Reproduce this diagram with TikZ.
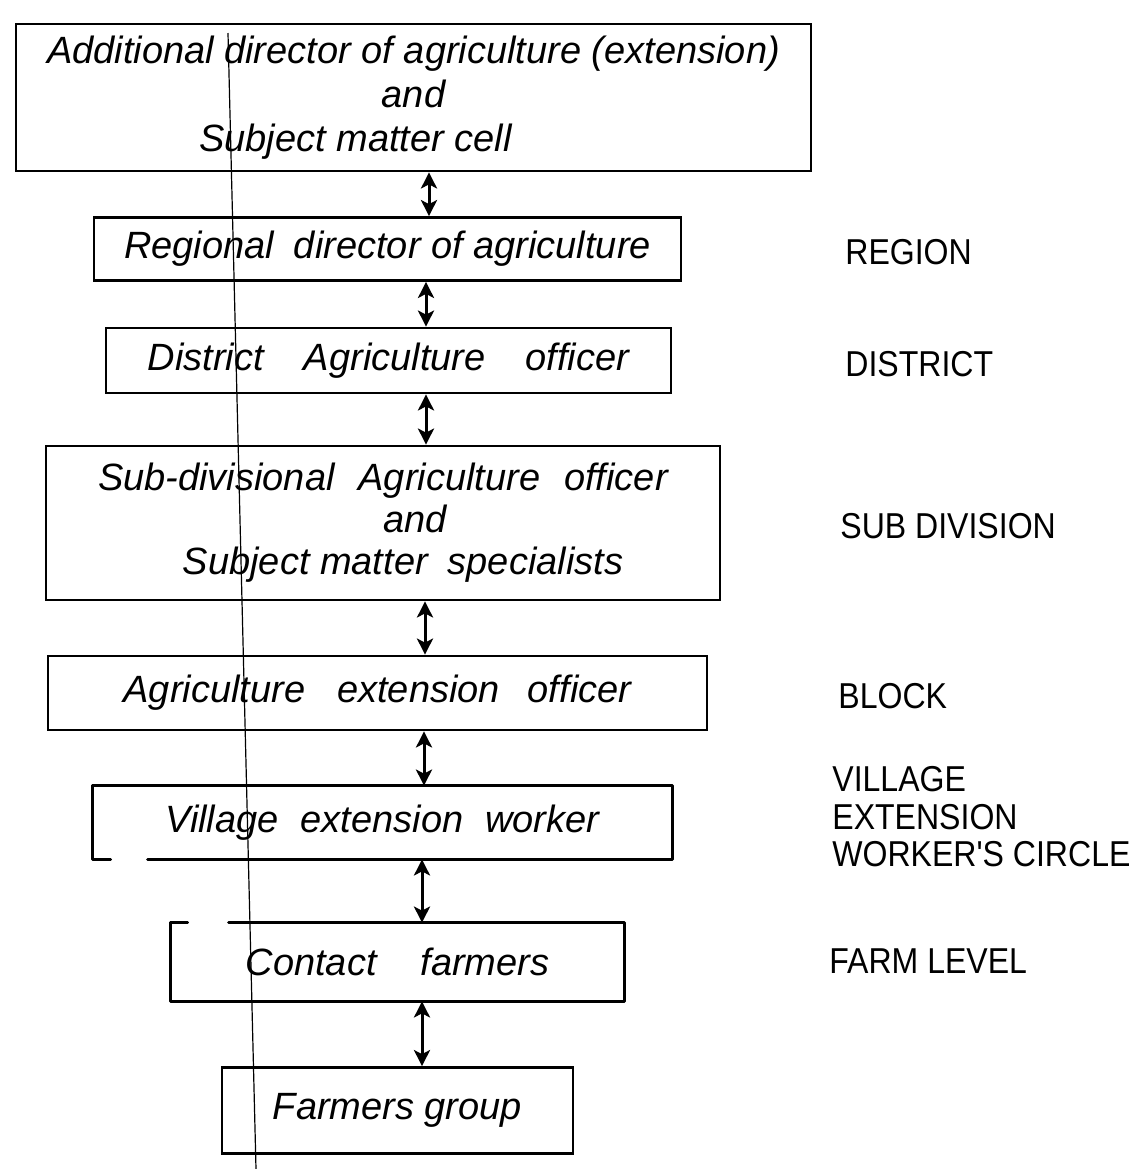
\documentclass[tikz,border=0pt]{standalone}
\usepackage{fontspec}
\setmainfont{Liberation Sans}
\newfontfamily\hand{Liberation Sans}
\newfontfamily\lab[FakeStretch=0.89]{Liberation Sans}
\usetikzlibrary{arrows.meta}
\begin{document}
\begin{tikzpicture}[x=0.5pt,y=-0.5pt,
  bxfont/.style={font=\hand\itshape\fontsize{19}{22}\selectfont},
  bx/.style={draw, line width=1.4pt, inner sep=0pt, align=center, bxfont},
  nb/.style={inner sep=0pt, align=center, bxfont},
  edge/.style={line width=1.4pt, line cap=round, line join=round},
  lv/.style={anchor=west, inner sep=0pt, align=left, font=\lab\fontsize{18}{18.75}\selectfont},
  dbl/.style={line width=1.5pt, {Stealth[length=8pt,width=8pt,inset=2pt]}-{Stealth[length=8pt,width=8pt,inset=2pt]}},
  fold/.style={line width=0.6pt}]

\fill[white] (0,0) rectangle (1144,1169);
\useasboundingbox (0,0) rectangle (1144,1169);

% thin vertical line across the sheet
\coordinate (ft) at (228,33);
\coordinate (fb) at (256,1169);
\draw[fold] (ft) -- (fb);

% boxes
\node[bx, minimum width=397.5pt, minimum height=73.5pt] (b1) at (413.5,97.5)
  {Additional director of agriculture (extension)\\and\\Subject matter cell\hspace*{58pt}\mbox{}};
\node[bx, minimum width=293.5pt, minimum height=31.5pt] (b2) at (387.5,249)
  {Regional\hspace{10pt}director of agriculture};
\node[bx, minimum width=282.5pt, minimum height=32.5pt] (b3) at (388.5,360.5)
  {District\hspace{20pt}Agriculture\hspace{20pt}officer};
\node[bx, minimum width=337pt, minimum height=77pt, font=\hand\itshape\fontsize{19}{21}\selectfont] (b4) at (383,523)
  {Sub-divisional\hspace{12pt}Agriculture\hspace{12pt}officer\\\hspace*{32pt}and\\\hspace*{20pt}Subject matter\hspace{10pt}specialists};
\node[bx, minimum width=329.5pt, minimum height=37pt] (b5) at (377.5,693)
  {Agriculture\hspace{16pt}extension\hspace{14pt}officer};
\node[nb, minimum width=289.5pt, minimum height=36.5pt] (b6) at (382.5,822.5)
  {Village\hspace{11pt}extension\hspace{11pt}worker};
\node[nb, minimum width=226.5pt, minimum height=39pt] (b7) at (397.5,962)
  {Contact\hspace{22pt}farmers};
\node[bx, minimum width=175.5pt, minimum height=43pt] (b8) at (397.5,1110.5)
  {Farmers group};

% box 6: open bracket at the lower left
\draw[edge] ([xshift=9pt]b6.south west) -- (b6.south west) -- (b6.north west) -- (b6.north east)
  -- (b6.south east) -- ([xshift=27.5pt]b6.south west);
% box 7: small gap in the top line
\draw[edge] ([xshift=8.5pt]b7.north west) -- (b7.north west) -- (b7.south west) -- (b7.south east)
  -- (b7.north east) -- ([xshift=29pt]b7.north west);

% connectors
\coordinate (x12) at (429,0);
\coordinate (x23) at (426,0);
\coordinate (x34) at (426,0);
\coordinate (x45) at (425,0);
\coordinate (x56) at (424,0);
\coordinate (x67) at (422,0);
\coordinate (x78) at (422,0);
\draw[dbl] (b1.south -| x12) -- (b2.north -| x12);
\draw[dbl] (b2.south -| x23) -- (b3.north -| x23);
\draw[dbl] (b3.south -| x34) -- (b4.north -| x34);
\draw[dbl] (b4.south -| x45) -- (b5.north -| x45);
\draw[dbl] (b5.south -| x56) -- (b6.north -| x56);
\draw[dbl] (b6.south -| x67) -- (b7.north -| x67);
\draw[dbl] (b7.south -| x78) -- (b8.north -| x78);

% level labels
\node[lv] (lr) at (845,252) {REGION};
\node[lv] (ld) at (845,364) {DISTRICT};
\node[lv] (ls) at (840,526) {SUB DIVISION};
\node[lv] (lb) at (838,696) {BLOCK};
\node[lv] (lw) at (832,817) {VILLAGE\\EXTENSION\\WORKER'S CIRCLE};
\node[lv] (lf) at (829,961) {FARM LEVEL};
\end{tikzpicture}
\end{document}
